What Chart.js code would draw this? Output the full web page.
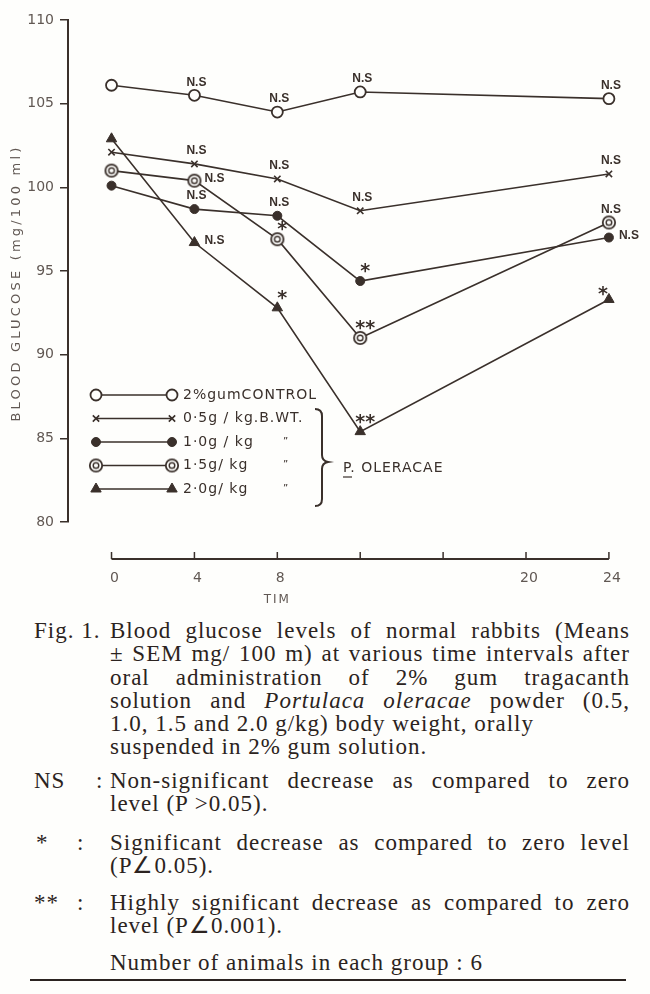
<!DOCTYPE html>
<html>
    <head>
        <meta charset="utf-8">
        <title>Blood glucose levels of normal rabbits</title>
        <style>
            body
            {
                margin: 0;
                background: #fefefc;
            }

            #chartWrapper
            {
                position: absolute;
                left: 0;
                top: 0;
                width: 650px;
                height: 615px;
            }

            #caption
            {
                position: absolute;
                left: 0;
                top: 0;
                width: 650px;
                font: 23px "Liberation Serif", "Times New Roman", serif;
                letter-spacing: 1px;
                color: #2b2320;
            }

            .blk { position: absolute; left: 110px; width: 520px; line-height: 23.3px; }
            .lab { position: absolute; left: 34px; line-height: 23.3px; }
            .colon { position: absolute; line-height: 23.3px; }
            .j { display: block; white-space: nowrap; text-align: justify; text-align-last: justify; }
            .l { display: block; white-space: nowrap; }
            #rule { position: absolute; left: 30px; top: 979px; width: 596px; height: 1.5px; background: #2b2320; }
        </style>
        <script src="https://cdn.jsdelivr.net/npm/chart.js"></script>
    </head>
    <body>
        <div id="chartWrapper">
            <canvas id="glucoseChart"></canvas>
        </div>

        <div id="caption">
            <div class="lab" style="top:619px">Fig. 1.</div>
            <div class="blk" style="top:619px">
                <span class="j">Blood glucose levels of normal rabbits (Means</span>
                <span class="j">± SEM mg/ 100 m) at various time intervals after</span>
                <span class="j">oral administration of 2% gum tragacanth</span>
                <span class="j">solution and <i>Portulaca oleracae</i> powder (0.5,</span>
                <span class="l">1.0, 1.5 and 2.0 g/kg) body weight, orally</span>
                <span class="l">suspended in 2% gum solution.</span>
            </div>

            <div class="lab" style="top:769px">NS</div>
            <div class="colon" style="top:769px; left:96px">:</div>
            <div class="blk" style="top:769px">
                <span class="j">Non-significant decrease as compared to zero</span>
                <span class="l">level (P &gt;0.05).</span>
            </div>

            <div class="lab" style="top:831px; left:36px">*</div>
            <div class="colon" style="top:831px; left:77px">:</div>
            <div class="blk" style="top:831px">
                <span class="j">Significant decrease as compared to zero level</span>
                <span class="l">(P∠0.05).</span>
            </div>

            <div class="lab" style="top:891px">**</div>
            <div class="colon" style="top:891px; left:77px">:</div>
            <div class="blk" style="top:891px">
                <span class="j">Highly significant decrease as compared to zero</span>
                <span class="l">level (P∠0.001).</span>
            </div>

            <div class="blk" style="top:951px">
                <span class="l">Number of animals in each group : 6</span>
            </div>
            <div id="rule"></div>
        </div>

        <script>
            // values (mg/100 ml)
            const hours = [0, 4, 8, 12, 24];
            const controlGum = [106.1, 105.5, 104.5, 105.7, 105.3];
            const dose05 = [102.1, 101.4, 100.5, 98.6, 100.8];
            const dose10 = [100.1, 98.7, 98.3, 94.4, 97.0];
            const dose15 = [101.0, 100.4, 96.9, 91.0, 97.9];
            const dose20 = [102.9, 96.7, 92.8, 85.4, 93.3];

            // significance marks next to each point
            const controlSig = ["", "N.S", "N.S", "N.S", "N.S"];
            const dose05Sig = ["", "N.S", "N.S", "N.S", "N.S"];
            const dose10Sig = ["", "N.S", "N.S", "*", "N.S"];
            const dose15Sig = ["", "N.S", "*", "**", "N.S"];
            const dose20Sig = ["", "N.S", "*", "**", "*"];

            const legendLabels = ["2%gumCONTROL", "0·5g / kg.B.WT.", "1·0g / kg", "1·5g/ kg", "2·0g/ kg"];
            const dittoRows = [false, false, true, true, true];
            const braceLabel = "P. OLERACAE";

            const yTicks = [80, 85, 90, 95, 100, 105, 110];
            const xTickValues = [0, 4, 8, 12, 16, 20, 24];
            const xTickLabels = ["0", "4", "8", "", "", "20", "24"];
            const yTitle = "BLOOD GLUCOSE (mg/100 ml)";
            const xTitle = "TIM";

            const INK = "#3a302b";
            const GREY = "#615853";
            const PAPER = "#fefefc";

            // where each mark sits relative to its point
            const sigPlace = [
                ["", "up", "up", "up", "up"],
                ["", "up", "up", "up", "up"],
                ["", "up", "up", "up", "right"],
                ["", "right", "up", "up", "up"],
                ["", "right", "up", "up", "upleft"]
            ];

            function doubleRing()
            {
                const c = document.createElement("canvas");
                c.width = 16; c.height = 16;
                const g = c.getContext("2d");
                g.strokeStyle = INK;
                g.fillStyle = PAPER;
                g.lineWidth = 1.8;
                g.beginPath(); g.arc(8, 8, 6.2, 0, Math.PI * 2); g.fill(); g.stroke();
                g.lineWidth = 1.4;
                g.beginPath(); g.arc(8, 8, 2.8, 0, Math.PI * 2); g.stroke();
                return c;
            }

            const series = [
                { data: controlGum, sig: controlSig, style: "circle", r: 5.5, fill: PAPER, bw: 1.8 },
                { data: dose05, sig: dose05Sig, style: "crossRot", r: 4.5, fill: INK, bw: 1.6 },
                { data: dose10, sig: dose10Sig, style: "circle", r: 4.5, fill: INK, bw: 1 },
                { data: dose15, sig: dose15Sig, style: doubleRing(), r: 6, fill: PAPER, bw: 1 },
                { data: dose20, sig: dose20Sig, style: "triangle", r: 6, fill: INK, bw: 1 }
            ];

            const sigMarks = {
                id: "sigMarks",
                afterDatasetsDraw(chart)
                {
                    const ctx = chart.ctx;
                    ctx.save();
                    ctx.fillStyle = INK;
                    ctx.textBaseline = "middle";
                    series.forEach((s, i) => {
                        const meta = chart.getDatasetMeta(i);
                        s.sig.forEach((txt, j) => {
                            if (!txt) return;
                            const pt = meta.data[j];
                            const place = sigPlace[i][j];
                            let x = pt.x, y = pt.y;
                            if (txt === "N.S") {
                                ctx.font = "bold 12px 'Liberation Sans'";
                                ctx.textAlign = place === "right" ? "left" : "center";
                                if (place === "right") { x += 10; y -= 2; }
                                else { x += 2; y -= 13; }
                            } else {
                                ctx.font = "bold 19px 'DejaVu Sans'";
                                ctx.textAlign = "center";
                                if (place === "upleft") { x -= 6; y -= 4; }
                                else { x += 5; y -= 9; }
                            }
                            ctx.fillText(txt, x, y);
                        });
                    });
                    ctx.restore();
                }
            };

            const decorations = {
                id: "decorations",
                afterDraw(chart)
                {
                    const ctx = chart.ctx;
                    const xs = chart.scales.x;
                    ctx.save();

                    // detached time axis
                    const axisY = 559;
                    ctx.strokeStyle = INK;
                    ctx.lineWidth = 2;
                    ctx.beginPath();
                    ctx.moveTo(xs.getPixelForValue(xTickValues[0]), axisY);
                    ctx.lineTo(xs.getPixelForValue(xTickValues[xTickValues.length - 1]), axisY);
                    ctx.stroke();
                    ctx.lineWidth = 1.5;
                    ctx.fillStyle = GREY;
                    ctx.font = "14px 'DejaVu Sans'";
                    ctx.textAlign = "center";
                    ctx.textBaseline = "middle";
                    xTickValues.forEach((v, k) => {
                        const px = xs.getPixelForValue(v);
                        ctx.beginPath();
                        ctx.moveTo(px, axisY);
                        ctx.lineTo(px, axisY - 7);
                        ctx.stroke();
                        if (xTickLabels[k]) ctx.fillText(xTickLabels[k], px + 3, 578);
                    });
                    ctx.font = "12px 'DejaVu Sans'";
                    ctx.letterSpacing = "2px";
                    ctx.fillText(xTitle, xs.getPixelForValue(8), 600);

                    // y title
                    ctx.save();
                    ctx.translate(17, 283);
                    ctx.rotate(-Math.PI / 2);
                    ctx.font = "13px 'DejaVu Sans'";
                    ctx.letterSpacing = "3.2px";
                    ctx.fillStyle = GREY;
                    ctx.fillText(yTitle, 0, 0);
                    ctx.restore();

                    // legend box inside plot
                    ctx.letterSpacing = "1px";
                    ctx.font = "14px 'DejaVu Sans'";
                    ctx.textAlign = "left";
                    series.forEach((s, i) => {
                        const ly = 395 + i * 23.5;
                        ctx.strokeStyle = INK;
                        ctx.lineWidth = 1.6;
                        ctx.beginPath();
                        ctx.moveTo(96, ly);
                        ctx.lineTo(172, ly);
                        ctx.stroke();
                        [96, 172].forEach(mx => {
                            ctx.fillStyle = s.fill;
                            ctx.strokeStyle = INK;
                            ctx.lineWidth = s.bw;
                            Chart.helpers.drawPoint(ctx, { pointStyle: s.style, radius: s.r, borderWidth: s.bw, rotation: 0 }, mx, ly);
                        });
                        ctx.fillStyle = INK;
                        ctx.fillText(legendLabels[i], 183, ly);
                        if (dittoRows[i]) {
                            ctx.font = "10px 'DejaVu Sans'";
                            ctx.fillText("\u201D", 283, ly);
                            ctx.font = "14px 'DejaVu Sans'";
                        }
                    });

                    // brace round the Portulaca doses
                    ctx.strokeStyle = INK;
                    ctx.lineWidth = 2;
                    ctx.beginPath();
                    ctx.moveTo(315, 409);
                    ctx.quadraticCurveTo(322, 409, 322, 416);
                    ctx.lineTo(322, 455);
                    ctx.quadraticCurveTo(322, 461, 328, 462);
                    ctx.quadraticCurveTo(322, 463, 322, 469);
                    ctx.lineTo(322, 499);
                    ctx.quadraticCurveTo(322, 506, 315, 506);
                    ctx.stroke();
                    ctx.fillStyle = INK;
                    ctx.fillText(braceLabel, 343, 468);
                    ctx.lineWidth = 1.2;
                    ctx.beginPath();
                    ctx.moveTo(343, 477);
                    ctx.lineTo(352, 477);
                    ctx.stroke();

                    ctx.restore();
                }
            };

            function init()
            {
                const chartHTML = document.getElementById("glucoseChart");
                new Chart(chartHTML, {
                    type: "scatter",
                    data: {
                        datasets: series.map((s, i) => ({
                            label: legendLabels[i],
                            data: hours.map((h, k) => ({ x: h, y: s.data[k] })),
                            showLine: true,
                            tension: 0,
                            borderColor: INK,
                            borderWidth: 1.6,
                            pointStyle: s.style,
                            pointRadius: s.r,
                            pointBorderWidth: s.bw,
                            pointBackgroundColor: s.fill,
                            pointBorderColor: INK
                        }))
                    },
                    options: {
                        responsive: true,
                        maintainAspectRatio: false,
                        animation: false,
                        layout: { padding: { left: 0, top: 20, right: 10, bottom: 93 } },
                        plugins: {
                            legend: { display: false },
                            tooltip: { enabled: false }
                        },
                        scales: {
                            x: {
                                type: "linear",
                                min: -2.1,
                                max: 25.5,
                                display: false
                            },
                            y: {
                                min: yTicks[0],
                                max: yTicks[yTicks.length - 1],
                                afterBuildTicks: s => { s.ticks = yTicks.map(v => ({ value: v })); },
                                afterFit: s => { s.width = 68; },
                                border: { display: true, color: INK, width: 2 },
                                grid: { drawOnChartArea: false, drawTicks: true, tickLength: 8, tickColor: INK, lineWidth: 1.5 },
                                ticks: {
                                    color: GREY,
                                    padding: 6,
                                    font: { family: "DejaVu Sans", size: 14 }
                                }
                            }
                        }
                    },
                    plugins: [sigMarks, decorations]
                });
            }

            init();
        </script>
    </body>
</html>
